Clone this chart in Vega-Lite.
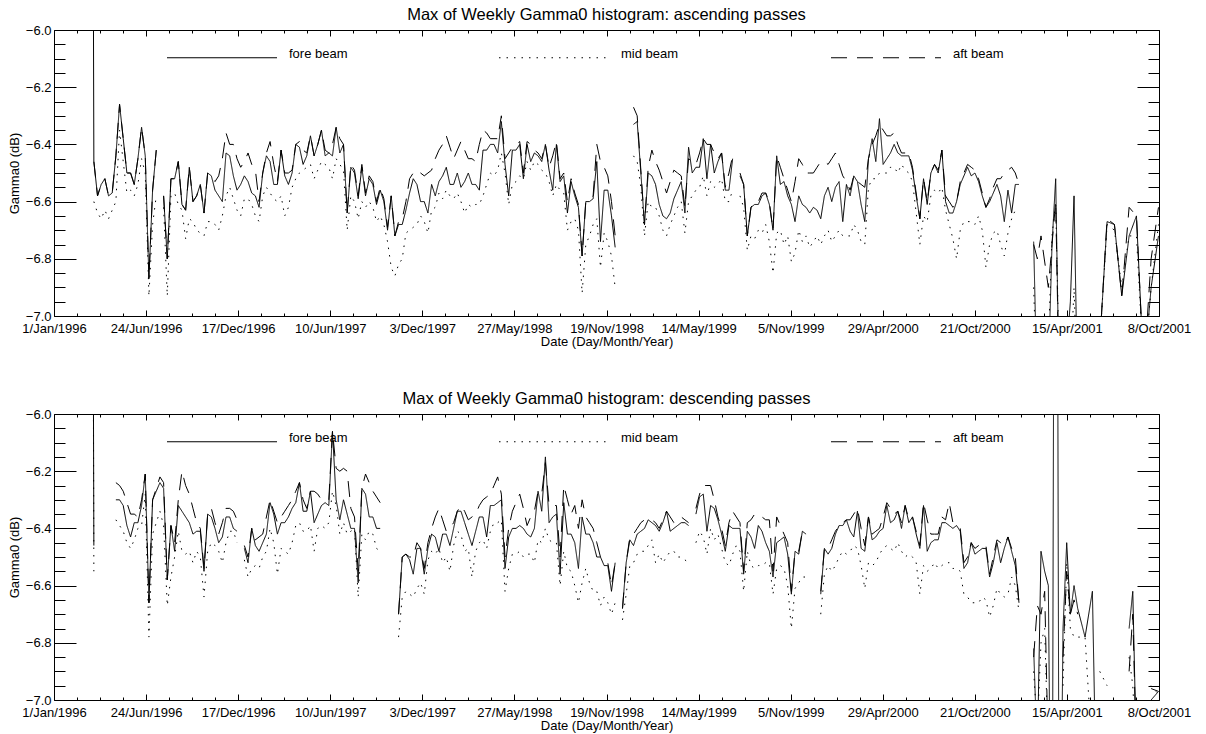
{
"$schema": "https://vega.github.io/schema/vega-lite/v6.json",
"padding": {"left": 7, "top": 6, "right": 4, "bottom": 0},
"spacing": 41,
"config": {
 "font": "Liberation Sans",
 "view": {"stroke": "black", "strokeWidth": 1},
 "axis": {"labelFont": "Liberation Sans", "labelFontSize": 13, "labelColor": "black", "titleFont": "Liberation Sans", "titleFontSize": 13, "titleFontWeight": "normal", "titleColor": "black", "domain": false, "grid": false, "tickColor": "black", "tickWidth": 1},
 "title": {"font": "Liberation Sans", "fontSize": 16.5, "fontWeight": "normal", "color": "black", "offset": 1, "anchor": "middle"},
 "legend": {"padding": 0}
},
"resolve": {"scale": {"strokeDash": "independent"}, "legend": {"strokeDash": "independent"}},
"datasets": {
"asc": [
{"d":"1996-03-14","f":-4.5,"m":null,"a":null},
{"d":"1996-03-17","f":-6.46,"m":-6.6,"a":-6.46},
{"d":"1996-03-31","f":-6.54,"m":-6.66,"a":-6.54},
{"d":"1996-04-14","f":-6.58,"m":-6.66,"a":-6.58},
{"d":"1996-04-28","f":-6.44,"m":-6.6,"a":-6.44},
{"d":"1996-05-05","f":-6.26,"m":-6.35,"a":-6.26},
{"d":"1996-05-12","f":-6.38,"m":-6.46,"a":-6.38},
{"d":"1996-05-26","f":-6.5,"m":-6.56,"a":-6.5},
{"d":"1996-06-09","f":-6.45,"m":-6.54,"a":-6.45},
{"d":"1996-06-16","f":-6.34,"m":-6.45,"a":-6.34},
{"d":"1996-06-23","f":-6.44,"m":-6.5,"a":-6.44},
{"d":"1996-06-30","f":-6.87,"m":-6.93,"a":-6.87},
{"d":"1996-07-07","f":-6.56,"m":-6.68,"a":-6.56},
{"d":"1996-07-14","f":-6.42,"m":-6.58,"a":-6.42},
{"d":"1996-07-21","f":null,"m":null,"a":null},
{"d":"1996-07-28","f":-6.58,"m":-6.62,"a":-6.58},
{"d":"1996-08-04","f":-6.8,"m":-6.93,"a":-6.8},
{"d":"1996-08-18","f":-6.52,"m":-6.57,"a":-6.52},
{"d":"1996-09-01","f":-6.61,"m":-6.63,"a":-6.61},
{"d":"1996-09-08","f":-6.63,"m":-6.73,"a":-6.63},
{"d":"1996-09-15","f":-6.48,"m":-6.66,"a":-6.48},
{"d":"1996-09-29","f":-6.58,"m":-6.7,"a":-6.58},
{"d":"1996-10-13","f":-6.64,"m":-6.72,"a":-6.64},
{"d":"1996-10-27","f":-6.51,"m":-6.67,"a":-6.51},
{"d":"1996-11-10","f":-6.58,"m":-6.7,"a":-6.51},
{"d":"1996-11-24","f":-6.43,"m":-6.58,"a":-6.36},
{"d":"1996-12-08","f":-6.51,"m":-6.59,"a":-6.4},
{"d":"1996-12-22","f":-6.54,"m":-6.65,"a":-6.48},
{"d":"1997-01-05","f":-6.53,"m":-6.59,"a":-6.43},
{"d":"1997-01-19","f":-6.58,"m":-6.65,"a":-6.49},
{"d":"1997-01-26","f":-6.62,"m":-6.67,"a":-6.6},
{"d":"1997-02-02","f":-6.5,"m":-6.58,"a":-6.5},
{"d":"1997-02-16","f":-6.46,"m":-6.57,"a":-6.39},
{"d":"1997-03-02","f":-6.54,"m":-6.6,"a":-6.53},
{"d":"1997-03-16","f":-6.51,"m":-6.65,"a":-6.5},
{"d":"1997-03-30","f":-6.5,"m":-6.55,"a":-6.49},
{"d":"1997-04-13","f":-6.41,"m":-6.5,"a":-6.39},
{"d":"1997-04-27","f":-6.44,"m":-6.48,"a":-6.43},
{"d":"1997-05-04","f":-6.37,"m":-6.47,"a":-6.37},
{"d":"1997-05-11","f":-6.44,"m":-6.52,"a":-6.44},
{"d":"1997-05-25","f":-6.35,"m":-6.46,"a":-6.35},
{"d":"1997-06-08","f":-6.43,"m":-6.48,"a":-6.43},
{"d":"1997-06-22","f":-6.34,"m":-6.45,"a":-6.34},
{"d":"1997-07-06","f":-6.4,"m":-6.49,"a":-6.4},
{"d":"1997-07-13","f":-6.64,"m":-6.7,"a":-6.64},
{"d":"1997-07-20","f":-6.48,"m":-6.58,"a":-6.47},
{"d":"1997-08-03","f":-6.59,"m":-6.66,"a":-6.58},
{"d":"1997-08-17","f":-6.58,"m":-6.62,"a":-6.57},
{"d":"1997-08-31","f":-6.54,"m":-6.62,"a":-6.53},
{"d":"1997-09-14","f":-6.56,"m":-6.65,"a":-6.55},
{"d":"1997-09-28","f":-6.7,"m":-6.74,"a":-6.69},
{"d":"1997-10-05","f":-6.58,"m":-6.83,"a":-6.58},
{"d":"1997-10-12","f":-6.72,"m":-6.86,"a":-6.72},
{"d":"1997-10-26","f":-6.68,"m":-6.8,"a":-6.66},
{"d":"1997-11-09","f":-6.57,"m":-6.7,"a":-6.52},
{"d":"1997-11-23","f":-6.54,"m":-6.68,"a":-6.49},
{"d":"1997-12-07","f":-6.6,"m":-6.67,"a":-6.51},
{"d":"1997-12-21","f":-6.54,"m":-6.63,"a":-6.49},
{"d":"1998-01-04","f":-6.53,"m":-6.57,"a":-6.42},
{"d":"1998-01-18","f":-6.48,"m":-6.56,"a":-6.37},
{"d":"1998-02-01","f":-6.54,"m":-6.59,"a":-6.45},
{"d":"1998-02-15","f":-6.55,"m":-6.6,"a":-6.39},
{"d":"1998-03-01","f":-6.5,"m":-6.61,"a":-6.45},
{"d":"1998-03-15","f":-6.54,"m":-6.61,"a":-6.46},
{"d":"1998-03-29","f":-6.42,"m":-6.58,"a":-6.35},
{"d":"1998-04-12","f":-6.4,"m":-6.5,"a":-6.38},
{"d":"1998-04-26","f":-6.43,"m":-6.49,"a":-6.38},
{"d":"1998-05-03","f":-6.32,"m":-6.43,"a":-6.3},
{"d":"1998-05-10","f":-6.47,"m":-6.5,"a":-6.45},
{"d":"1998-05-24","f":-6.42,"m":-6.54,"a":-6.41},
{"d":"1998-06-07","f":-6.4,"m":-6.51,"a":-6.39},
{"d":"1998-06-14","f":-6.52,"m":-6.52,"a":-6.5},
{"d":"1998-06-21","f":-6.4,"m":-6.46,"a":-6.39},
{"d":"1998-07-05","f":-6.43,"m":-6.46,"a":-6.42},
{"d":"1998-07-19","f":-6.46,"m":-6.49,"a":-6.45},
{"d":"1998-08-02","f":-6.49,"m":-6.53,"a":-6.48},
{"d":"1998-08-16","f":-6.4,"m":-6.54,"a":-6.39},
{"d":"1998-08-23","f":-6.53,"m":-6.56,"a":-6.52},
{"d":"1998-08-30","f":-6.51,"m":-6.57,"a":-6.5},
{"d":"1998-09-13","f":-6.53,"m":-6.67,"a":-6.52},
{"d":"1998-09-27","f":-6.62,"m":-6.7,"a":-6.61},
{"d":"1998-10-04","f":-6.79,"m":-6.92,"a":-6.79},
{"d":"1998-10-11","f":-6.6,"m":-6.75,"a":-6.6},
{"d":"1998-10-25","f":-6.59,"m":-6.68,"a":-6.58},
{"d":"1998-11-01","f":-6.46,"m":-6.66,"a":-6.4},
{"d":"1998-11-08","f":-6.74,"m":-6.83,"a":-6.46},
{"d":"1998-11-22","f":-6.56,"m":-6.74,"a":-6.51},
{"d":"1998-12-06","f":-6.76,"m":-6.9,"a":-6.72},
{"d":"1998-12-20","f":null,"m":null,"a":null},
{"d":"1999-01-03","f":null,"m":null,"a":null},
{"d":"1999-01-10","f":-6.33,"m":-6.44,"a":-6.27},
{"d":"1999-01-17","f":-6.32,"m":-6.46,"a":-6.3},
{"d":"1999-01-31","f":-6.68,"m":-6.72,"a":-6.68},
{"d":"1999-02-14","f":-6.51,"m":-6.62,"a":-6.42},
{"d":"1999-02-28","f":-6.61,"m":-6.65,"a":-6.49},
{"d":"1999-03-14","f":-6.66,"m":-6.72,"a":-6.57},
{"d":"1999-03-28","f":-6.59,"m":-6.65,"a":-6.49},
{"d":"1999-04-11","f":-6.53,"m":-6.6,"a":-6.51},
{"d":"1999-04-18","f":-6.64,"m":-6.71,"a":-6.62},
{"d":"1999-04-25","f":-6.41,"m":-6.6,"a":-6.45},
{"d":"1999-05-09","f":-6.48,"m":-6.56,"a":-6.47},
{"d":"1999-05-23","f":-6.38,"m":-6.51,"a":-6.38},
{"d":"1999-06-06","f":-6.4,"m":-6.53,"a":-6.4},
{"d":"1999-06-20","f":-6.46,"m":-6.54,"a":-6.45},
{"d":"1999-07-04","f":-6.56,"m":-6.6,"a":-6.55},
{"d":"1999-07-18","f":-6.45,"m":-6.56,"a":-6.44},
{"d":"1999-07-25","f":null,"m":null,"a":null},
{"d":"1999-08-01","f":-6.51,"m":-6.58,"a":-6.5},
{"d":"1999-08-15","f":-6.72,"m":-6.77,"a":-6.72},
{"d":"1999-08-29","f":-6.61,"m":-6.73,"a":-6.6},
{"d":"1999-09-12","f":-6.58,"m":-6.71,"a":-6.57},
{"d":"1999-09-26","f":-6.61,"m":-6.74,"a":-6.6},
{"d":"1999-10-03","f":-6.7,"m":-6.85,"a":-6.7},
{"d":"1999-10-10","f":-6.44,"m":-6.71,"a":-6.44},
{"d":"1999-10-24","f":-6.53,"m":-6.75,"a":-6.52},
{"d":"1999-11-07","f":-6.61,"m":-6.81,"a":-6.6},
{"d":"1999-11-21","f":-6.58,"m":-6.7,"a":-6.45},
{"d":"1999-12-05","f":-6.62,"m":-6.72,"a":-6.5},
{"d":"1999-12-19","f":-6.62,"m":-6.74,"a":-6.5},
{"d":"2000-01-02","f":-6.66,"m":-6.75,"a":-6.46},
{"d":"2000-01-16","f":-6.55,"m":-6.7,"a":-6.47},
{"d":"2000-01-30","f":-6.55,"m":-6.72,"a":-6.43},
{"d":"2000-02-13","f":-6.67,"m":-6.72,"a":-6.51},
{"d":"2000-02-27","f":-6.58,"m":-6.72,"a":-6.56},
{"d":"2000-03-12","f":-6.53,"m":-6.7,"a":-6.53},
{"d":"2000-03-26","f":-6.67,"m":-6.75,"a":-6.55},
{"d":"2000-04-09","f":-6.38,"m":-6.52,"a":-6.4},
{"d":"2000-04-23","f":-6.31,"m":-6.5,"a":-6.33},
{"d":"2000-05-07","f":-6.45,"m":-6.5,"a":-6.37},
{"d":"2000-05-21","f":-6.4,"m":-6.48,"a":-6.36},
{"d":"2000-06-04","f":-6.44,"m":-6.47,"a":-6.43},
{"d":"2000-06-18","f":-6.44,"m":-6.5,"a":-6.43},
{"d":"2000-07-02","f":-6.58,"m":-6.64,"a":-6.57},
{"d":"2000-07-09","f":-6.66,"m":-6.75,"a":-6.66},
{"d":"2000-07-16","f":-6.52,"m":-6.65,"a":-6.52},
{"d":"2000-07-30","f":-6.5,"m":-6.58,"a":-6.5},
{"d":"2000-08-13","f":-6.5,"m":-6.57,"a":-6.49},
{"d":"2000-08-20","f":-6.42,"m":-6.55,"a":-6.42},
{"d":"2000-08-27","f":-6.6,"m":-6.63,"a":-6.58},
{"d":"2000-09-10","f":-6.64,"m":-6.73,"a":-6.62},
{"d":"2000-09-17","f":-6.6,"m":-6.8,"a":-6.6},
{"d":"2000-09-24","f":-6.54,"m":-6.7,"a":-6.53},
{"d":"2000-10-08","f":-6.48,"m":-6.67,"a":-6.47},
{"d":"2000-10-22","f":-6.5,"m":-6.68,"a":-6.49},
{"d":"2000-11-05","f":-6.58,"m":-6.7,"a":-6.57},
{"d":"2000-11-12","f":-6.62,"m":-6.83,"a":-6.62},
{"d":"2000-11-19","f":-6.6,"m":-6.75,"a":-6.59},
{"d":"2000-12-03","f":-6.54,"m":-6.7,"a":-6.52},
{"d":"2000-12-17","f":-6.67,"m":-6.79,"a":-6.5},
{"d":"2000-12-31","f":-6.64,"m":-6.66,"a":-6.48},
{"d":"2001-01-14","f":-6.54,"m":-6.63,"a":-6.54},
{"d":"2001-01-28","f":null,"m":null,"a":null},
{"d":"2001-02-11","f":-6.74,"m":-6.9,"a":-6.75},
{"d":"2001-02-18","f":-7.3,"m":-7.3,"a":-6.8},
{"d":"2001-02-25","f":-7.3,"m":-7.3,"a":-6.72},
{"d":"2001-03-11","f":-7.2,"m":-7.1,"a":-6.9},
{"d":"2001-03-18","f":-6.75,"m":-6.72,"a":-6.75},
{"d":"2001-03-25","f":-6.52,"m":-6.6,"a":-6.6},
{"d":"2001-04-01","f":-7.3,"m":-7.2,"a":-7.3},
{"d":"2001-04-08","f":-7.3,"m":-7.2,"a":-7.2},
{"d":"2001-04-22","f":-6.95,"m":-7.2,"a":-7.2},
{"d":"2001-04-29","f":-6.58,"m":-6.9,"a":-7.0},
{"d":"2001-05-06","f":-7.3,"m":-7.3,"a":-7.3},
{"d":"2001-05-20","f":null,"m":null,"a":null},
{"d":"2001-06-17","f":-7.1,"m":-7.1,"a":-7.1},
{"d":"2001-07-01","f":-6.67,"m":-6.68,"a":-6.66},
{"d":"2001-07-15","f":-6.68,"m":-6.7,"a":-6.68},
{"d":"2001-07-29","f":-6.93,"m":-6.9,"a":-6.93},
{"d":"2001-08-12","f":-6.72,"m":-6.72,"a":-6.62},
{"d":"2001-08-26","f":-6.65,"m":-6.72,"a":-6.65},
{"d":"2001-09-09","f":-7.2,"m":-7.2,"a":-7.2},
{"d":"2001-09-23","f":-6.9,"m":-6.9,"a":-6.8},
{"d":"2001-10-07","f":-6.72,"m":-6.68,"a":-6.62},
{"d":"1996-03-24","f":-6.58,"m":-6.64,"a":-6.58},
{"d":"1996-04-07","f":-6.52,"m":-6.63,"a":-6.52},
{"d":"1996-04-21","f":-6.57,"m":-6.63,"a":-6.57},
{"d":"1996-05-19","f":-6.5,"m":-6.57,"a":-6.5},
{"d":"1996-06-02","f":-6.54,"m":-6.58,"a":-6.54},
{"d":"1996-08-11","f":-6.52,"m":-6.58,"a":-6.52},
{"d":"1996-08-25","f":-6.46,"m":-6.61,"a":-6.46},
{"d":"1996-09-22","f":-6.6,"m":-6.67,"a":-6.6},
{"d":"1996-10-06","f":-6.54,"m":-6.71,"a":-6.54},
{"d":"1996-10-20","f":-6.5,"m":-6.67,"a":-6.5},
{"d":"1996-11-03","f":-6.56,"m":-6.68,"a":-6.53},
{"d":"1996-11-17","f":-6.6,"m":-6.65,"a":-6.45},
{"d":"1996-12-01","f":-6.44,"m":-6.55,"a":-6.4},
{"d":"1996-12-15","f":-6.56,"m":-6.63,"a":-6.45},
{"d":"1996-12-29","f":-6.51,"m":-6.59,"a":-6.46},
{"d":"1997-01-12","f":-6.57,"m":-6.61,"a":-6.47},
{"d":"1997-02-09","f":-6.44,"m":-6.55,"a":-6.43},
{"d":"1997-02-23","f":-6.54,"m":-6.59,"a":-6.47},
{"d":"1997-03-09","f":-6.42,"m":-6.58,"a":-6.42},
{"d":"1997-03-23","f":-6.54,"m":-6.62,"a":-6.5},
{"d":"1997-04-06","f":-6.4,"m":-6.52,"a":-6.4},
{"d":"1997-04-20","f":-6.47,"m":-6.49,"a":-6.42},
{"d":"1997-05-18","f":-6.4,"m":-6.49,"a":-6.4},
{"d":"1997-06-01","f":-6.44,"m":-6.47,"a":-6.42},
{"d":"1997-06-15","f":-6.44,"m":-6.52,"a":-6.4},
{"d":"1997-06-29","f":-6.43,"m":-6.47,"a":-6.38},
{"d":"1997-07-27","f":-6.5,"m":-6.6,"a":-6.49},
{"d":"1997-08-10","f":-6.48,"m":-6.6,"a":-6.47},
{"d":"1997-08-24","f":-6.52,"m":-6.6,"a":-6.51},
{"d":"1997-09-07","f":-6.61,"m":-6.67,"a":-6.6},
{"d":"1997-09-21","f":-6.6,"m":-6.68,"a":-6.59},
{"d":"1997-10-19","f":-6.68,"m":-6.82,"a":-6.67},
{"d":"1997-11-02","f":-6.63,"m":-6.71,"a":-6.6},
{"d":"1997-11-16","f":-6.52,"m":-6.69,"a":-6.5},
{"d":"1997-11-30","f":-6.6,"m":-6.65,"a":-6.5},
{"d":"1997-12-14","f":-6.64,"m":-6.71,"a":-6.5},
{"d":"1997-12-28","f":-6.58,"m":-6.62,"a":-6.45},
{"d":"1998-01-11","f":-6.51,"m":-6.59,"a":-6.4},
{"d":"1998-01-25","f":-6.54,"m":-6.58,"a":-6.41},
{"d":"1998-02-08","f":-6.5,"m":-6.57,"a":-6.42},
{"d":"1998-02-22","f":-6.53,"m":-6.64,"a":-6.42},
{"d":"1998-03-08","f":-6.54,"m":-6.62,"a":-6.45},
{"d":"1998-03-22","f":-6.56,"m":-6.61,"a":-6.4},
{"d":"1998-04-05","f":-6.42,"m":-6.54,"a":-6.36},
{"d":"1998-04-19","f":-6.4,"m":-6.51,"a":-6.38},
{"d":"1998-05-17","f":-6.58,"m":-6.61,"a":-6.43},
{"d":"1998-05-31","f":-6.42,"m":-6.53,"a":-6.4},
{"d":"1998-06-28","f":-6.46,"m":-6.49,"a":-6.4},
{"d":"1998-07-12","f":-6.44,"m":-6.47,"a":-6.43},
{"d":"1998-07-26","f":-6.4,"m":-6.5,"a":-6.4},
{"d":"1998-08-09","f":-6.56,"m":-6.58,"a":-6.44},
{"d":"1998-09-06","f":-6.64,"m":-6.7,"a":-6.6},
{"d":"1998-09-20","f":-6.58,"m":-6.66,"a":-6.57},
{"d":"1998-10-18","f":-6.6,"m":-6.72,"a":-6.59},
{"d":"1998-11-15","f":-6.56,"m":-6.71,"a":-6.48},
{"d":"1998-11-29","f":-6.65,"m":-6.79,"a":-6.6},
{"d":"1999-01-24","f":-6.5,"m":-6.55,"a":-6.49},
{"d":"1999-02-07","f":-6.5,"m":-6.6,"a":-6.48},
{"d":"1999-02-21","f":-6.54,"m":-6.62,"a":-6.46},
{"d":"1999-03-07","f":-6.65,"m":-6.7,"a":-6.53},
{"d":"1999-03-21","f":-6.64,"m":-6.68,"a":-6.53},
{"d":"1999-04-04","f":-6.56,"m":-6.62,"a":-6.5},
{"d":"1999-05-02","f":-6.5,"m":-6.58,"a":-6.46},
{"d":"1999-05-16","f":-6.48,"m":-6.55,"a":-6.43},
{"d":"1999-05-30","f":-6.52,"m":-6.58,"a":-6.4},
{"d":"1999-06-13","f":-6.5,"m":-6.55,"a":-6.43},
{"d":"1999-06-27","f":-6.43,"m":-6.52,"a":-6.43},
{"d":"1999-07-11","f":-6.56,"m":-6.6,"a":-6.5},
{"d":"1999-08-08","f":-6.54,"m":-6.62,"a":-6.54},
{"d":"1999-08-22","f":-6.62,"m":-6.72,"a":-6.62},
{"d":"1999-09-05","f":-6.61,"m":-6.7,"a":-6.6},
{"d":"1999-09-19","f":-6.57,"m":-6.68,"a":-6.57},
{"d":"1999-10-17","f":-6.54,"m":-6.7,"a":-6.48},
{"d":"1999-10-31","f":-6.58,"m":-6.72,"a":-6.56},
{"d":"1999-11-14","f":-6.67,"m":-6.78,"a":-6.53},
{"d":"1999-11-28","f":-6.61,"m":-6.74,"a":-6.47},
{"d":"1999-12-12","f":-6.64,"m":-6.76,"a":-6.5},
{"d":"1999-12-26","f":-6.63,"m":-6.72,"a":-6.48},
{"d":"2000-01-09","f":-6.58,"m":-6.72,"a":-6.46},
{"d":"2000-01-23","f":-6.6,"m":-6.74,"a":-6.45},
{"d":"2000-02-06","f":-6.53,"m":-6.7,"a":-6.47},
{"d":"2000-02-20","f":-6.54,"m":-6.72,"a":-6.53},
{"d":"2000-03-05","f":-6.51,"m":-6.68,"a":-6.51},
{"d":"2000-03-19","f":-6.61,"m":-6.74,"a":-6.54},
{"d":"2000-04-02","f":-6.45,"m":-6.55,"a":-6.45},
{"d":"2000-04-16","f":-6.46,"m":-6.52,"a":-6.37},
{"d":"2000-04-30","f":-6.47,"m":-6.5,"a":-6.35},
{"d":"2000-05-14","f":-6.43,"m":-6.48,"a":-6.37},
{"d":"2000-05-28","f":-6.43,"m":-6.5,"a":-6.4},
{"d":"2000-06-11","f":-6.44,"m":-6.49,"a":-6.43},
{"d":"2000-06-25","f":-6.49,"m":-6.53,"a":-6.48},
{"d":"2000-07-23","f":-6.61,"m":-6.67,"a":-6.6},
{"d":"2000-08-06","f":-6.47,"m":-6.56,"a":-6.47},
{"d":"2000-09-03","f":-6.64,"m":-6.68,"a":-6.6},
{"d":"2000-10-01","f":-6.51,"m":-6.67,"a":-6.5},
{"d":"2000-10-15","f":-6.51,"m":-6.67,"a":-6.48},
{"d":"2000-10-29","f":-6.53,"m":-6.65,"a":-6.52},
{"d":"2000-11-26","f":-6.57,"m":-6.71,"a":-6.55},
{"d":"2000-12-10","f":-6.58,"m":-6.75,"a":-6.52},
{"d":"2000-12-24","f":-6.56,"m":-6.71,"a":-6.49},
{"d":"2001-01-07","f":-6.54,"m":-6.63,"a":-6.5}
],
"desc": [
{"d":"1996-03-14","f":-4.5,"m":-4.5,"a":null},
{"d":"1996-03-17","f":-6.46,"m":-6.55,"a":null},
{"d":"1996-03-31","f":null,"m":null,"a":null},
{"d":"1996-04-28","f":-6.3,"m":-6.37,"a":-6.24},
{"d":"1996-05-12","f":-6.32,"m":-6.41,"a":-6.27},
{"d":"1996-05-26","f":-6.43,"m":-6.47,"a":-6.35},
{"d":"1996-06-09","f":-6.38,"m":-6.4,"a":-6.36},
{"d":"1996-06-16","f":-6.32,"m":-6.39,"a":-6.3},
{"d":"1996-06-23","f":-6.21,"m":-6.28,"a":-6.21},
{"d":"1996-06-30","f":-6.66,"m":-6.78,"a":-6.66},
{"d":"1996-07-07","f":-6.3,"m":-6.42,"a":-6.3},
{"d":"1996-07-21","f":-6.24,"m":-6.34,"a":-6.22},
{"d":"1996-08-04","f":-6.58,"m":-6.67,"a":-6.58},
{"d":"1996-08-18","f":-6.48,"m":-6.5,"a":-6.45},
{"d":"1996-09-01","f":-6.34,"m":-6.48,"a":-6.2},
{"d":"1996-09-15","f":-6.38,"m":-6.48,"a":-6.28},
{"d":"1996-09-29","f":-6.41,"m":-6.48,"a":-6.38},
{"d":"1996-10-13","f":-6.55,"m":-6.64,"a":-6.54},
{"d":"1996-10-27","f":-6.36,"m":-6.45,"a":-6.33},
{"d":"1996-11-10","f":-6.45,"m":-6.48,"a":-6.42},
{"d":"1996-11-24","f":-6.36,"m":-6.45,"a":-6.33},
{"d":"1996-12-08","f":-6.4,"m":-6.41,"a":-6.34},
{"d":"1996-12-22","f":null,"m":null,"a":null},
{"d":"1997-01-05","f":-6.52,"m":-6.57,"a":-6.5},
{"d":"1997-01-19","f":-6.46,"m":-6.53,"a":-6.44},
{"d":"1997-02-02","f":-6.45,"m":-6.5,"a":-6.42},
{"d":"1997-02-16","f":-6.31,"m":-6.4,"a":-6.3},
{"d":"1997-03-02","f":-6.42,"m":-6.56,"a":-6.38},
{"d":"1997-03-16","f":-6.38,"m":-6.48,"a":-6.34},
{"d":"1997-03-30","f":-6.33,"m":-6.45,"a":-6.3},
{"d":"1997-04-13","f":-6.24,"m":-6.38,"a":-6.24},
{"d":"1997-04-27","f":-6.34,"m":-6.41,"a":-6.33},
{"d":"1997-05-11","f":-6.38,"m":-6.48,"a":-6.27},
{"d":"1997-05-25","f":-6.32,"m":-6.39,"a":-6.3},
{"d":"1997-06-08","f":-6.32,"m":-6.38,"a":-6.3},
{"d":"1997-06-15","f":-6.06,"m":-6.27,"a":-6.06},
{"d":"1997-06-22","f":-6.3,"m":-6.32,"a":-6.19},
{"d":"1997-07-06","f":-6.3,"m":-6.38,"a":-6.19},
{"d":"1997-07-13","f":-6.35,"m":-6.42,"a":-6.2},
{"d":"1997-07-20","f":-6.4,"m":-6.41,"a":-6.33},
{"d":"1997-08-03","f":-6.59,"m":-6.64,"a":-6.55},
{"d":"1997-08-17","f":-6.28,"m":-6.44,"a":-6.21},
{"d":"1997-08-31","f":-6.36,"m":-6.42,"a":-6.27},
{"d":"1997-09-14","f":-6.4,"m":-6.48,"a":-6.31},
{"d":"1997-09-28","f":null,"m":null,"a":null},
{"d":"1997-10-19","f":-6.7,"m":-6.78,"a":-6.7},
{"d":"1997-10-26","f":-6.5,"m":-6.64,"a":-6.5},
{"d":"1997-11-09","f":-6.51,"m":-6.63,"a":-6.5},
{"d":"1997-11-23","f":-6.47,"m":-6.61,"a":-6.45},
{"d":"1997-12-07","f":-6.56,"m":-6.63,"a":-6.54},
{"d":"1997-12-21","f":-6.42,"m":-6.48,"a":-6.4},
{"d":"1998-01-04","f":-6.48,"m":-6.47,"a":-6.33},
{"d":"1998-01-18","f":-6.42,"m":-6.5,"a":-6.41},
{"d":"1998-02-01","f":-6.4,"m":-6.46,"a":-6.38},
{"d":"1998-02-15","f":-6.34,"m":-6.42,"a":-6.32},
{"d":"1998-03-01","f":-6.42,"m":-6.47,"a":-6.37},
{"d":"1998-03-15","f":-6.41,"m":-6.48,"a":-6.35},
{"d":"1998-03-29","f":-6.36,"m":-6.44,"a":-6.3},
{"d":"1998-04-12","f":-6.32,"m":-6.41,"a":-6.28},
{"d":"1998-04-26","f":-6.31,"m":-6.38,"a":-6.22},
{"d":"1998-05-03","f":-6.3,"m":-6.37,"a":-6.28},
{"d":"1998-05-10","f":-6.54,"m":-6.62,"a":-6.5},
{"d":"1998-05-24","f":-6.4,"m":-6.49,"a":-6.34},
{"d":"1998-06-07","f":-6.39,"m":-6.48,"a":-6.28},
{"d":"1998-06-21","f":-6.42,"m":-6.49,"a":-6.39},
{"d":"1998-07-05","f":-6.4,"m":-6.52,"a":-6.34},
{"d":"1998-07-19","f":-6.34,"m":-6.45,"a":-6.28},
{"d":"1998-07-26","f":-6.15,"m":-6.4,"a":-6.17},
{"d":"1998-08-02","f":-6.38,"m":-6.44,"a":-6.32},
{"d":"1998-08-16","f":-6.35,"m":-6.45,"a":-6.32},
{"d":"1998-08-23","f":-6.56,"m":-6.6,"a":-6.5},
{"d":"1998-08-30","f":-6.31,"m":-6.48,"a":-6.25},
{"d":"1998-09-13","f":-6.42,"m":-6.55,"a":-6.35},
{"d":"1998-09-27","f":-6.54,"m":-6.66,"a":-6.4},
{"d":"1998-10-11","f":-6.42,"m":-6.54,"a":-6.36},
{"d":"1998-10-25","f":-6.45,"m":-6.62,"a":-6.4},
{"d":"1998-11-08","f":-6.5,"m":-6.67,"a":-6.5},
{"d":"1998-11-22","f":-6.53,"m":-6.66,"a":-6.52},
{"d":"1998-11-29","f":-6.62,"m":-6.7,"a":-6.6},
{"d":"1998-12-06","f":-6.52,"m":-6.66,"a":-6.52},
{"d":"1998-12-13","f":null,"m":null,"a":null},
{"d":"1998-12-20","f":-6.68,"m":-6.72,"a":-6.68},
{"d":"1999-01-03","f":-6.44,"m":-6.53,"a":-6.43},
{"d":"1999-01-17","f":-6.42,"m":-6.49,"a":-6.4},
{"d":"1999-01-31","f":-6.4,"m":-6.48,"a":-6.37},
{"d":"1999-02-14","f":-6.38,"m":-6.44,"a":-6.37},
{"d":"1999-02-28","f":-6.41,"m":-6.49,"a":-6.4},
{"d":"1999-03-14","f":-6.34,"m":-6.5,"a":-6.34},
{"d":"1999-03-28","f":-6.4,"m":-6.48,"a":-6.38},
{"d":"1999-04-11","f":-6.38,"m":-6.5,"a":-6.36},
{"d":"1999-04-25","f":-6.39,"m":-6.52,"a":-6.38},
{"d":"1999-05-02","f":null,"m":null,"a":null},
{"d":"1999-05-09","f":-6.35,"m":-6.45,"a":-6.33},
{"d":"1999-05-23","f":-6.28,"m":-6.43,"a":-6.25},
{"d":"1999-06-06","f":-6.32,"m":-6.4,"a":-6.25},
{"d":"1999-06-20","f":-6.37,"m":-6.42,"a":-6.36},
{"d":"1999-07-04","f":-6.48,"m":-6.52,"a":-6.46},
{"d":"1999-07-18","f":-6.4,"m":-6.49,"a":-6.34},
{"d":"1999-08-01","f":-6.4,"m":-6.48,"a":-6.38},
{"d":"1999-08-08","f":-6.56,"m":-6.62,"a":-6.55},
{"d":"1999-08-15","f":-6.41,"m":-6.48,"a":-6.38},
{"d":"1999-08-29","f":-6.47,"m":-6.54,"a":-6.35},
{"d":"1999-09-12","f":-6.41,"m":-6.53,"a":-6.36},
{"d":"1999-09-26","f":-6.48,"m":-6.52,"a":-6.37},
{"d":"1999-10-03","f":-6.57,"m":-6.63,"a":-6.55},
{"d":"1999-10-10","f":-6.45,"m":-6.54,"a":-6.36},
{"d":"1999-10-24","f":-6.43,"m":-6.54,"a":-6.42},
{"d":"1999-11-07","f":-6.63,"m":-6.75,"a":-6.62},
{"d":"1999-11-21","f":-6.49,"m":-6.59,"a":-6.48},
{"d":"1999-12-05","f":-6.42,"m":-6.57,"a":-6.42},
{"d":"1999-12-19","f":null,"m":null,"a":null},
{"d":"2000-01-02","f":-6.63,"m":-6.7,"a":-6.62},
{"d":"2000-01-16","f":-6.49,"m":-6.53,"a":-6.47},
{"d":"2000-01-30","f":-6.42,"m":-6.53,"a":-6.41},
{"d":"2000-02-13","f":-6.39,"m":-6.48,"a":-6.38},
{"d":"2000-02-27","f":-6.41,"m":-6.48,"a":-6.37},
{"d":"2000-03-12","f":-6.34,"m":-6.47,"a":-6.33},
{"d":"2000-03-26","f":-6.48,"m":-6.61,"a":-6.46},
{"d":"2000-04-09","f":-6.44,"m":-6.53,"a":-6.42},
{"d":"2000-04-23","f":-6.41,"m":-6.49,"a":-6.4},
{"d":"2000-05-07","f":-6.32,"m":-6.46,"a":-6.31},
{"d":"2000-05-21","f":-6.37,"m":-6.48,"a":-6.35},
{"d":"2000-06-04","f":-6.4,"m":-6.48,"a":-6.38},
{"d":"2000-06-18","f":-6.38,"m":-6.49,"a":-6.37},
{"d":"2000-07-02","f":-6.42,"m":-6.52,"a":-6.41},
{"d":"2000-07-09","f":-6.47,"m":-6.63,"a":-6.46},
{"d":"2000-07-16","f":-6.32,"m":-6.53,"a":-6.31},
{"d":"2000-07-30","f":-6.45,"m":-6.54,"a":-6.42},
{"d":"2000-08-13","f":-6.44,"m":-6.54,"a":-6.42},
{"d":"2000-08-27","f":-6.38,"m":-6.52,"a":-6.37},
{"d":"2000-09-03","f":-6.39,"m":-6.52,"a":-6.31},
{"d":"2000-09-10","f":-6.4,"m":-6.54,"a":-6.38},
{"d":"2000-09-24","f":-6.41,"m":-6.55,"a":-6.4},
{"d":"2000-10-01","f":-6.54,"m":-6.63,"a":-6.52},
{"d":"2000-10-08","f":-6.52,"m":-6.64,"a":-6.5},
{"d":"2000-10-22","f":-6.49,"m":-6.66,"a":-6.47},
{"d":"2000-11-05","f":-6.47,"m":-6.64,"a":-6.45},
{"d":"2000-11-19","f":-6.57,"m":-6.71,"a":-6.56},
{"d":"2000-12-03","f":-6.45,"m":-6.61,"a":-6.44},
{"d":"2000-12-17","f":-6.47,"m":-6.64,"a":-6.46},
{"d":"2000-12-31","f":-6.48,"m":-6.57,"a":-6.47},
{"d":"2001-01-14","f":-6.66,"m":-6.69,"a":-6.66},
{"d":"2001-01-28","f":null,"m":null,"a":null},
{"d":"2001-02-11","f":-6.82,"m":-6.9,"a":-6.85},
{"d":"2001-02-18","f":-7.2,"m":-7.1,"a":-6.67},
{"d":"2001-02-25","f":-6.48,"m":-6.8,"a":-6.7},
{"d":"2001-03-04","f":-6.55,"m":-6.75,"a":-6.62},
{"d":"2001-03-11","f":-6.6,"m":-7.2,"a":-7.2},
{"d":"2001-03-18","f":-8,"m":-7.2,"a":-7.2},
{"d":"2001-03-25","f":-3,"m":null,"a":null},
{"d":"2001-04-01","f":-8,"m":null,"a":null},
{"d":"2001-04-08","f":-6.75,"m":-6.95,"a":-6.85},
{"d":"2001-04-15","f":-6.45,"m":-6.52,"a":-6.55},
{"d":"2001-04-22","f":-6.7,"m":-6.75,"a":-6.7},
{"d":"2001-04-29","f":-6.6,"m":-6.78,"a":-6.65},
{"d":"2001-05-06","f":-6.68,"m":-6.78,"a":-6.7},
{"d":"2001-05-20","f":-6.78,"m":-6.78,"a":null},
{"d":"2001-06-03","f":-6.62,"m":-7.2,"a":null},
{"d":"2001-06-10","f":-7.3,"m":null,"a":null},
{"d":"2001-06-17","f":null,"m":-6.9,"a":null},
{"d":"2001-07-01","f":null,"m":-6.95,"a":-6.9},
{"d":"2001-07-15","f":null,"m":null,"a":null},
{"d":"2001-08-12","f":-6.75,"m":-6.85,"a":-6.9},
{"d":"2001-08-19","f":-6.62,"m":-6.95,"a":-6.7},
{"d":"2001-08-26","f":-7.2,"m":-7.2,"a":-7.2},
{"d":"2001-09-09","f":null,"m":null,"a":null},
{"d":"2001-09-23","f":-7.0,"m":-6.95,"a":-6.96},
{"d":"2001-10-07","f":-6.97,"m":-6.98,"a":-6.97},
{"d":"1996-05-05","f":-6.3,"m":-6.39,"a":-6.25},
{"d":"1996-05-19","f":-6.39,"m":-6.45,"a":-6.31},
{"d":"1996-06-02","f":-6.38,"m":-6.44,"a":-6.35},
{"d":"1996-07-14","f":-6.27,"m":-6.38,"a":-6.26},
{"d":"1996-07-28","f":-6.26,"m":-6.39,"a":-6.24},
{"d":"1996-08-11","f":-6.39,"m":-6.57,"a":-6.39},
{"d":"1996-08-25","f":-6.32,"m":-6.41,"a":-6.3},
{"d":"1996-09-08","f":-6.36,"m":-6.49,"a":-6.25},
{"d":"1996-09-22","f":-6.42,"m":-6.52,"a":-6.33},
{"d":"1996-10-06","f":-6.41,"m":-6.5,"a":-6.4},
{"d":"1996-10-20","f":-6.35,"m":-6.48,"a":-6.35},
{"d":"1996-11-03","f":-6.4,"m":-6.46,"a":-6.38},
{"d":"1996-11-17","f":-6.43,"m":-6.52,"a":-6.38},
{"d":"1996-12-01","f":-6.36,"m":-6.41,"a":-6.33},
{"d":"1996-12-15","f":-6.41,"m":-6.45,"a":-6.37},
{"d":"1996-12-29","f":-6.47,"m":-6.51,"a":-6.46},
{"d":"1997-01-12","f":-6.4,"m":-6.54,"a":-6.4},
{"d":"1997-01-26","f":-6.48,"m":-6.54,"a":-6.43},
{"d":"1997-02-09","f":-6.42,"m":-6.48,"a":-6.36},
{"d":"1997-02-23","f":-6.35,"m":-6.45,"a":-6.34},
{"d":"1997-03-09","f":-6.38,"m":-6.47,"a":-6.36},
{"d":"1997-03-23","f":-6.36,"m":-6.49,"a":-6.32},
{"d":"1997-04-06","f":-6.31,"m":-6.39,"a":-6.27},
{"d":"1997-04-20","f":-6.34,"m":-6.41,"a":-6.3},
{"d":"1997-05-04","f":-6.27,"m":-6.39,"a":-6.27},
{"d":"1997-05-18","f":-6.35,"m":-6.4,"a":-6.28},
{"d":"1997-06-01","f":-6.31,"m":-6.4,"a":-6.3},
{"d":"1997-06-29","f":-6.37,"m":-6.42,"a":-6.2},
{"d":"1997-07-27","f":-6.4,"m":-6.4,"a":-6.36},
{"d":"1997-08-10","f":-6.26,"m":-6.42,"a":-6.26},
{"d":"1997-08-24","f":-6.36,"m":-6.41,"a":-6.24},
{"d":"1997-09-07","f":-6.4,"m":-6.47,"a":-6.29},
{"d":"1997-11-02","f":-6.49,"m":-6.62,"a":-6.49},
{"d":"1997-11-16","f":-6.56,"m":-6.64,"a":-6.5},
{"d":"1997-11-30","f":-6.47,"m":-6.59,"a":-6.47},
{"d":"1997-12-14","f":-6.47,"m":-6.51,"a":-6.45},
{"d":"1997-12-28","f":-6.43,"m":-6.49,"a":-6.36},
{"d":"1998-01-11","f":-6.42,"m":-6.52,"a":-6.37},
{"d":"1998-01-25","f":-6.46,"m":-6.55,"a":-6.4},
{"d":"1998-02-08","f":-6.34,"m":-6.41,"a":-6.34},
{"d":"1998-02-22","f":-6.38,"m":-6.48,"a":-6.34},
{"d":"1998-03-08","f":-6.46,"m":-6.57,"a":-6.36},
{"d":"1998-03-22","f":-6.36,"m":-6.45,"a":-6.32},
{"d":"1998-04-05","f":-6.43,"m":-6.47,"a":-6.29},
{"d":"1998-04-19","f":-6.32,"m":-6.38,"a":-6.25},
{"d":"1998-05-17","f":-6.43,"m":-6.54,"a":-6.4},
{"d":"1998-05-31","f":-6.4,"m":-6.49,"a":-6.31},
{"d":"1998-06-14","f":-6.4,"m":-6.5,"a":-6.33},
{"d":"1998-06-28","f":-6.43,"m":-6.49,"a":-6.36},
{"d":"1998-07-12","f":-6.27,"m":-6.44,"a":-6.27},
{"d":"1998-08-09","f":-6.36,"m":-6.45,"a":-6.32},
{"d":"1998-09-06","f":-6.42,"m":-6.54,"a":-6.3},
{"d":"1998-09-20","f":-6.45,"m":-6.6,"a":-6.32},
{"d":"1998-10-04","f":-6.36,"m":-6.59,"a":-6.3},
{"d":"1998-10-18","f":-6.42,"m":-6.59,"a":-6.38},
{"d":"1998-11-01","f":-6.5,"m":-6.62,"a":-6.45},
{"d":"1998-11-15","f":-6.53,"m":-6.64,"a":-6.51},
{"d":"1998-12-27","f":-6.52,"m":-6.63,"a":-6.52},
{"d":"1999-01-10","f":-6.46,"m":-6.52,"a":-6.42},
{"d":"1999-01-24","f":-6.41,"m":-6.48,"a":-6.38},
{"d":"1999-02-07","f":-6.37,"m":-6.46,"a":-6.37},
{"d":"1999-02-21","f":-6.39,"m":-6.52,"a":-6.38},
{"d":"1999-03-07","f":-6.38,"m":-6.52,"a":-6.37},
{"d":"1999-03-21","f":-6.41,"m":-6.48,"a":-6.36},
{"d":"1999-04-04","f":-6.39,"m":-6.5,"a":-6.37},
{"d":"1999-04-18","f":-6.38,"m":-6.51,"a":-6.37},
{"d":"1999-05-16","f":-6.29,"m":-6.41,"a":-6.28},
{"d":"1999-05-30","f":-6.41,"m":-6.49,"a":-6.25},
{"d":"1999-06-13","f":-6.33,"m":-6.44,"a":-6.3},
{"d":"1999-06-27","f":-6.42,"m":-6.47,"a":-6.4},
{"d":"1999-07-11","f":-6.39,"m":-6.53,"a":-6.38},
{"d":"1999-07-25","f":-6.4,"m":-6.46,"a":-6.36},
{"d":"1999-08-22","f":-6.43,"m":-6.53,"a":-6.37},
{"d":"1999-09-05","f":-6.39,"m":-6.53,"a":-6.35},
{"d":"1999-09-19","f":-6.45,"m":-6.52,"a":-6.37},
{"d":"1999-10-17","f":-6.44,"m":-6.53,"a":-6.39},
{"d":"1999-10-31","f":-6.49,"m":-6.6,"a":-6.45},
{"d":"1999-11-14","f":-6.48,"m":-6.61,"a":-6.48},
{"d":"1999-11-28","f":-6.41,"m":-6.57,"a":-6.41},
{"d":"2000-01-09","f":-6.47,"m":-6.56,"a":-6.47},
{"d":"2000-01-23","f":-6.47,"m":-6.55,"a":-6.44},
{"d":"2000-02-06","f":-6.39,"m":-6.5,"a":-6.39},
{"d":"2000-02-20","f":-6.37,"m":-6.49,"a":-6.37},
{"d":"2000-03-05","f":-6.43,"m":-6.46,"a":-6.35},
{"d":"2000-03-19","f":-6.47,"m":-6.53,"a":-6.4},
{"d":"2000-04-02","f":-6.36,"m":-6.52,"a":-6.36},
{"d":"2000-04-16","f":-6.43,"m":-6.52,"a":-6.41},
{"d":"2000-04-30","f":-6.4,"m":-6.47,"a":-6.36},
{"d":"2000-05-14","f":-6.38,"m":-6.47,"a":-6.33},
{"d":"2000-05-28","f":-6.34,"m":-6.45,"a":-6.34},
{"d":"2000-06-11","f":-6.32,"m":-6.5,"a":-6.32},
{"d":"2000-06-25","f":-6.36,"m":-6.5,"a":-6.36},
{"d":"2000-07-23","f":-6.48,"m":-6.55,"a":-6.37},
{"d":"2000-08-06","f":-6.44,"m":-6.52,"a":-6.42},
{"d":"2000-08-20","f":-6.38,"m":-6.53,"a":-6.36},
{"d":"2000-09-17","f":-6.39,"m":-6.54,"a":-6.39},
{"d":"2000-10-15","f":-6.45,"m":-6.66,"a":-6.45},
{"d":"2000-10-29","f":-6.48,"m":-6.66,"a":-6.46},
{"d":"2000-11-12","f":-6.47,"m":-6.65,"a":-6.46},
{"d":"2000-11-26","f":-6.52,"m":-6.67,"a":-6.5},
{"d":"2000-12-10","f":-6.52,"m":-6.63,"a":-6.45},
{"d":"2000-12-24","f":-6.43,"m":-6.63,"a":-6.43},
{"d":"2001-01-07","f":-6.53,"m":-6.6,"a":-6.5}
]
},
"vconcat": [
{
 "title": "Max of Weekly Gamma0 histogram: ascending passes",
 "width": 1105, "height": 286,
 "data": {"name": "asc"},
 "transform": [{"fold": ["f", "m", "a"], "as": ["beam", "value"]}],
 "resolve": {"axis": {"x": "independent", "y": "independent"}},
 "layer": [
  {
   "mark": {"type": "line", "stroke": "black", "strokeWidth": 1, "clip": true, "invalid": "break-paths-filter-domains"},
   "encoding": {
    "x": {"field": "d", "type": "temporal", "scale": {"type": "utc", "domain": [820454400000, 1002499200000]},
     "axis": {"orient": "bottom", "values": [820454400000,824247000000,828039600000,831832200000,835624800000,839417400000,843210000000,847002600000,850795200000,854587800000,858380400000,862173000000,865965600000,869758200000,873550800000,877343400000,881136000000,884928600000,888721200000,892513800000,896306400000,900099000000,903891600000,907684200000,911476800000,915269400000,919062000000,922854600000,926647200000,930439800000,934232400000,938025000000,941817600000,945610200000,949402800000,953195400000,956988000000,960780600000,964573200000,968365800000,972158400000,975951000000,979743600000,983536200000,987328800000,991121400000,994914000000,998706600000,1002499200000],
      "labelExpr": "round((datum.value-820454400000)/3792600000)%4==0 ? utcFormat(datum.value, '%-d/%b/%Y') : ''",
      "tickSize": {"condition": {"test": "round((datum.value-820454400000)/3792600000)%4==0", "value": -6}, "value": -3},
      "labelPadding": 12, "labelFlush": false, "labelOverlap": false, "labelBound": false,
      "title": "Date (Day/Month/Year)", "titlePadding": -3}},
    "y": {"field": "value", "type": "quantitative", "scale": {"domain": [-7, -6], "nice": false, "zero": false},
     "axis": {"orient": "left", "values": [-7,-6.95,-6.9,-6.85,-6.8,-6.75,-6.7,-6.65,-6.6,-6.55,-6.5,-6.45,-6.4,-6.35,-6.3,-6.25,-6.2,-6.15,-6.1,-6.05,-6],
      "labelExpr": "abs(datum.value*5-round(datum.value*5))<0.01 ? format(datum.value, '.1f') : ''",
      "tickSize": {"condition": {"test": "abs(datum.value*5-round(datum.value*5))<0.01", "value": -22}, "value": -11},
      "labelPadding": 25, "labelFlush": false, "labelOverlap": false,
      "title": "Gamma0 (dB)", "titlePadding": 4}},
    "strokeDash": {"field": "beam", "type": "nominal", "scale": {"domain": ["f", "m", "a"], "range": [[1, 0], [1.5, 6], [16, 10]]},
     "legend": {"orient": "none", "legendX": 161.5, "legendY": 21, "direction": "horizontal", "title": null, "symbolType": "M-10,0H10", "symbolSize": 121, "symbolStrokeWidth": 1, "symbolStrokeColor": "black", "labelFont": "Liberation Sans", "labelFontSize": 13, "labelColor": "black", "labelOffset": 60.5, "labelBaseline": "alphabetic", "columnPadding": 148, "gridAlign": "all",
      "labelExpr": "datum.label == 'f' ? 'fore beam' : datum.label == 'm' ? 'mid beam' : 'aft beam'"}}
   }
  },
  {
   "mark": {"type": "point", "opacity": 0, "clip": true},
   "encoding": {
    "x": {"field": "d", "type": "temporal",
     "axis": {"orient": "top", "labels": false, "title": null, "values": [820454400000,824247000000,828039600000,831832200000,835624800000,839417400000,843210000000,847002600000,850795200000,854587800000,858380400000,862173000000,865965600000,869758200000,873550800000,877343400000,881136000000,884928600000,888721200000,892513800000,896306400000,900099000000,903891600000,907684200000,911476800000,915269400000,919062000000,922854600000,926647200000,930439800000,934232400000,938025000000,941817600000,945610200000,949402800000,953195400000,956988000000,960780600000,964573200000,968365800000,972158400000,975951000000,979743600000,983536200000,987328800000,991121400000,994914000000,998706600000,1002499200000],
      "tickSize": {"condition": {"test": "round((datum.value-820454400000)/3792600000)%4==0", "value": -6}, "value": -3}}},
    "y": {"field": "value", "type": "quantitative",
     "axis": {"orient": "right", "labels": false, "title": null, "values": [-7,-6.95,-6.9,-6.85,-6.8,-6.75,-6.7,-6.65,-6.6,-6.55,-6.5,-6.45,-6.4,-6.35,-6.3,-6.25,-6.2,-6.15,-6.1,-6.05,-6],
      "tickSize": {"condition": {"test": "abs(datum.value*5-round(datum.value*5))<0.01", "value": -22}, "value": -11}}}
   }
  }
 ]
},
{
 "title": "Max of Weekly Gamma0 histogram: descending passes",
 "width": 1105, "height": 286,
 "data": {"name": "desc"},
 "transform": [{"fold": ["f", "m", "a"], "as": ["beam", "value"]}],
 "resolve": {"axis": {"x": "independent", "y": "independent"}},
 "layer": [
  {
   "mark": {"type": "line", "stroke": "black", "strokeWidth": 1, "clip": true, "invalid": "break-paths-filter-domains"},
   "encoding": {
    "x": {"field": "d", "type": "temporal", "scale": {"type": "utc", "domain": [820454400000, 1002499200000]},
     "axis": {"orient": "bottom", "values": [820454400000,824247000000,828039600000,831832200000,835624800000,839417400000,843210000000,847002600000,850795200000,854587800000,858380400000,862173000000,865965600000,869758200000,873550800000,877343400000,881136000000,884928600000,888721200000,892513800000,896306400000,900099000000,903891600000,907684200000,911476800000,915269400000,919062000000,922854600000,926647200000,930439800000,934232400000,938025000000,941817600000,945610200000,949402800000,953195400000,956988000000,960780600000,964573200000,968365800000,972158400000,975951000000,979743600000,983536200000,987328800000,991121400000,994914000000,998706600000,1002499200000],
      "labelExpr": "round((datum.value-820454400000)/3792600000)%4==0 ? utcFormat(datum.value, '%-d/%b/%Y') : ''",
      "tickSize": {"condition": {"test": "round((datum.value-820454400000)/3792600000)%4==0", "value": -6}, "value": -3},
      "labelPadding": 12, "labelFlush": false, "labelOverlap": false, "labelBound": false,
      "title": "Date (Day/Month/Year)", "titlePadding": -3}},
    "y": {"field": "value", "type": "quantitative", "scale": {"domain": [-7, -6], "nice": false, "zero": false},
     "axis": {"orient": "left", "values": [-7,-6.95,-6.9,-6.85,-6.8,-6.75,-6.7,-6.65,-6.6,-6.55,-6.5,-6.45,-6.4,-6.35,-6.3,-6.25,-6.2,-6.15,-6.1,-6.05,-6],
      "labelExpr": "abs(datum.value*5-round(datum.value*5))<0.01 ? format(datum.value, '.1f') : ''",
      "tickSize": {"condition": {"test": "abs(datum.value*5-round(datum.value*5))<0.01", "value": -22}, "value": -11},
      "labelPadding": 25, "labelFlush": false, "labelOverlap": false,
      "title": "Gamma0 (dB)", "titlePadding": 4}},
    "strokeDash": {"field": "beam", "type": "nominal", "scale": {"domain": ["f", "m", "a"], "range": [[1, 0], [1.5, 6], [16, 10]]},
     "legend": {"orient": "none", "legendX": 161.5, "legendY": 21, "direction": "horizontal", "title": null, "symbolType": "M-10,0H10", "symbolSize": 121, "symbolStrokeWidth": 1, "symbolStrokeColor": "black", "labelFont": "Liberation Sans", "labelFontSize": 13, "labelColor": "black", "labelOffset": 60.5, "labelBaseline": "alphabetic", "columnPadding": 148, "gridAlign": "all",
      "labelExpr": "datum.label == 'f' ? 'fore beam' : datum.label == 'm' ? 'mid beam' : 'aft beam'"}}
   }
  },
  {
   "mark": {"type": "point", "opacity": 0, "clip": true},
   "encoding": {
    "x": {"field": "d", "type": "temporal",
     "axis": {"orient": "top", "labels": false, "title": null, "values": [820454400000,824247000000,828039600000,831832200000,835624800000,839417400000,843210000000,847002600000,850795200000,854587800000,858380400000,862173000000,865965600000,869758200000,873550800000,877343400000,881136000000,884928600000,888721200000,892513800000,896306400000,900099000000,903891600000,907684200000,911476800000,915269400000,919062000000,922854600000,926647200000,930439800000,934232400000,938025000000,941817600000,945610200000,949402800000,953195400000,956988000000,960780600000,964573200000,968365800000,972158400000,975951000000,979743600000,983536200000,987328800000,991121400000,994914000000,998706600000,1002499200000],
      "tickSize": {"condition": {"test": "round((datum.value-820454400000)/3792600000)%4==0", "value": -6}, "value": -3}}},
    "y": {"field": "value", "type": "quantitative",
     "axis": {"orient": "right", "labels": false, "title": null, "values": [-7,-6.95,-6.9,-6.85,-6.8,-6.75,-6.7,-6.65,-6.6,-6.55,-6.5,-6.45,-6.4,-6.35,-6.3,-6.25,-6.2,-6.15,-6.1,-6.05,-6],
      "tickSize": {"condition": {"test": "abs(datum.value*5-round(datum.value*5))<0.01", "value": -22}, "value": -11}}}
   }
  }
 ]
}
]
}
